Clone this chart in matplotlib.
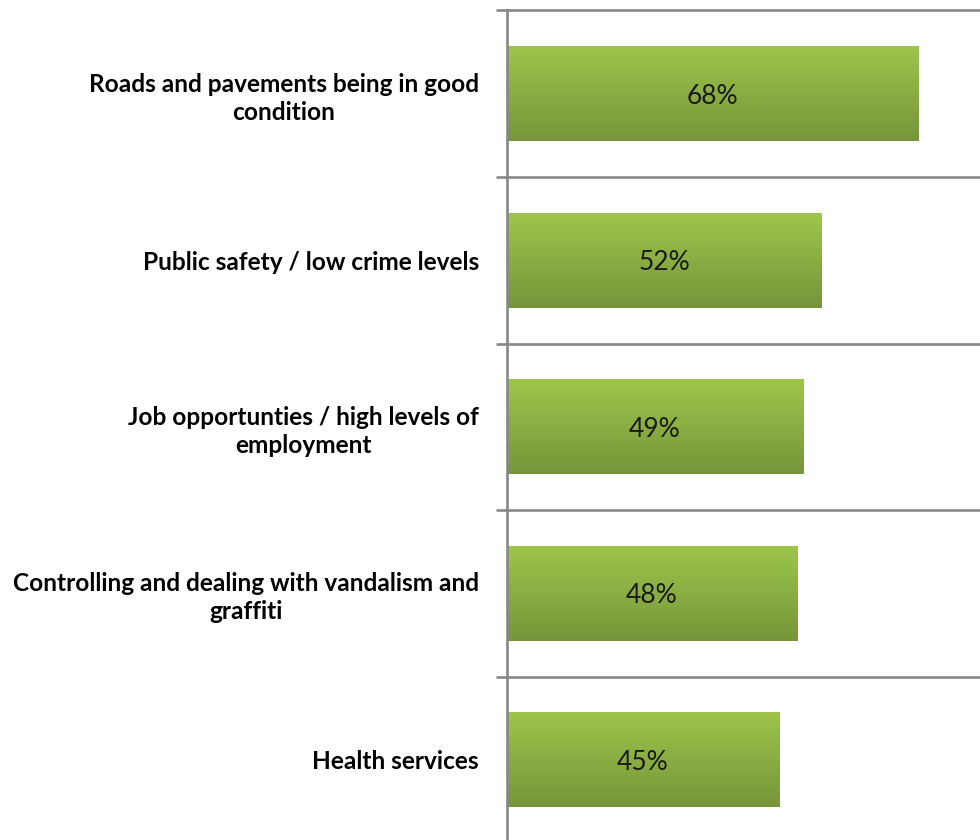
import numpy as np
import matplotlib
matplotlib.use("Agg")
import matplotlib.pyplot as plt
from matplotlib.colors import LinearSegmentedColormap

categories = [
    "Roads and pavements being in good\ncondition",
    "Public safety / low crime levels",
    "Job opportunties / high levels of\nemployment",
    "Controlling and dealing with vandalism and\ngraffiti",
    "Health services",
]
values = [68, 52, 49, 48, 45]

GRID = "#878787"
BAR_TOP = "#9dc64b"
BAR_BOTTOM = "#76953a"
BAR_H = 0.57

fig = plt.figure(figsize=(9.8, 8.4), dpi=100)
ax = fig.add_axes([0.517, -0.0036, 0.483, 0.9911])
ax.set_xlim(0, 78.15)
ax.set_ylim(4.5, -0.5)

# vertical gradient, light on top -> darker at the bottom
grad_cmap = LinearSegmentedColormap.from_list("bar", [BAR_TOP, BAR_BOTTOM])
grad = np.linspace(0, 1, 256).reshape(-1, 1)
for i, v in enumerate(values):
    ax.imshow(grad, cmap=grad_cmap, aspect="auto", origin="upper",
              extent=(0, v, i + BAR_H / 2, i - BAR_H / 2), zorder=2,
              interpolation="bilinear")
    ax.text(v / 2, i, f"{v}%", ha="center", va="center_baseline",
            fontsize=19, family="Lato", color="#1a1a1a", zorder=3)
ax.set_xlim(0, 78.15)
ax.set_ylim(4.5, -0.5)

# category separators
for b in np.arange(-0.5, len(values), 1.0):
    ax.axhline(b, color=GRID, lw=1.9, zorder=1, clip_on=False)

ax.set_yticks(range(len(categories)))
ax.set_yticklabels(categories, fontsize=17.6, family="Lato", fontweight="bold")
for lab in ax.get_yticklabels():
    lab.set_multialignment("center")
    lab.set_linespacing(1.25)
ax.set_yticks(np.arange(-0.5, len(values), 1.0), minor=True)
ax.tick_params(axis="y", which="major", length=0, pad=20)
ax.tick_params(axis="y", which="minor", length=8, width=1.9, color=GRID)
ax.set_xticks([])

for side in ("top", "right", "bottom"):
    ax.spines[side].set_visible(False)
ax.spines["left"].set_color(GRID)
ax.spines["left"].set_linewidth(1.9)
ax.spines["left"].set_zorder(4)

fig.savefig("out.png", dpi=100)
